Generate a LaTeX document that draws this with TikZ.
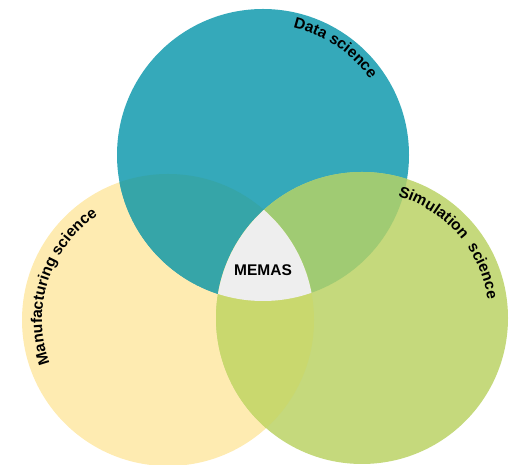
\documentclass[tikz,border=0pt]{standalone}
\usepackage{fontspec}
\setmainfont{Liberation Sans}
\usetikzlibrary{decorations.text}
\definecolor{cteal}{HTML}{35A9BA}
\definecolor{cyellow}{HTML}{FEEBB1}
\definecolor{cgreen}{HTML}{C5D97C}
\definecolor{cty}{HTML}{36A5A8}
\definecolor{ctg}{HTML}{A0CB73}
\definecolor{cyg}{HTML}{C9D86E}
\definecolor{ccenter}{HTML}{EEEEEE}
\tikzset{
  arclabel/.style={decorate, decoration={text along path, text align=center,
     text={|\bfseries\fontsize{15.5}{18}\selectfont|#1}}},
  lbl/.style={font=\bfseries\fontsize{15.5}{18}\selectfont}
}
\begin{document}
\begin{tikzpicture}[x=1pt,y=1pt]
\useasboundingbox (0,0) rectangle (514,465);
\coordinate (T) at (263,310);
\coordinate (Y) at (168,145);
\coordinate (G) at (362,147);
\def\R{146}
% circles
\fill[cyellow] (Y) circle[radius=\R];
\fill[cteal] (T) circle[radius=\R];
\fill[cgreen] (G) circle[radius=\R];
% pairwise overlaps
\begin{scope}
  \clip (T) circle[radius=\R];
  \fill[cty] (Y) circle[radius=\R];
  \fill[ctg] (G) circle[radius=\R];
\end{scope}
\begin{scope}
  \clip (Y) circle[radius=\R];
  \fill[cyg] (G) circle[radius=\R];
\end{scope}
% triple overlap
\begin{scope}
  \clip (T) circle[radius=\R];
  \clip (Y) circle[radius=\R];
  \fill[ccenter] (G) circle[radius=\R];
\end{scope}
\node[lbl] (memas) at (263,195) {MEMAS};
% curved labels
\path[arclabel={Data science}] (T) ++(116:131) arc[start angle=116, end angle=-4, radius=131];
\path[arclabel={Simulation{\ }{\ }science}] (G) ++(101:127) arc[start angle=101, end angle=-19, radius=127];
\path[arclabel={Manufacturing science}] (Y) ++(232:126) arc[start angle=232, end angle=92, radius=126];
\end{tikzpicture}
\end{document}
